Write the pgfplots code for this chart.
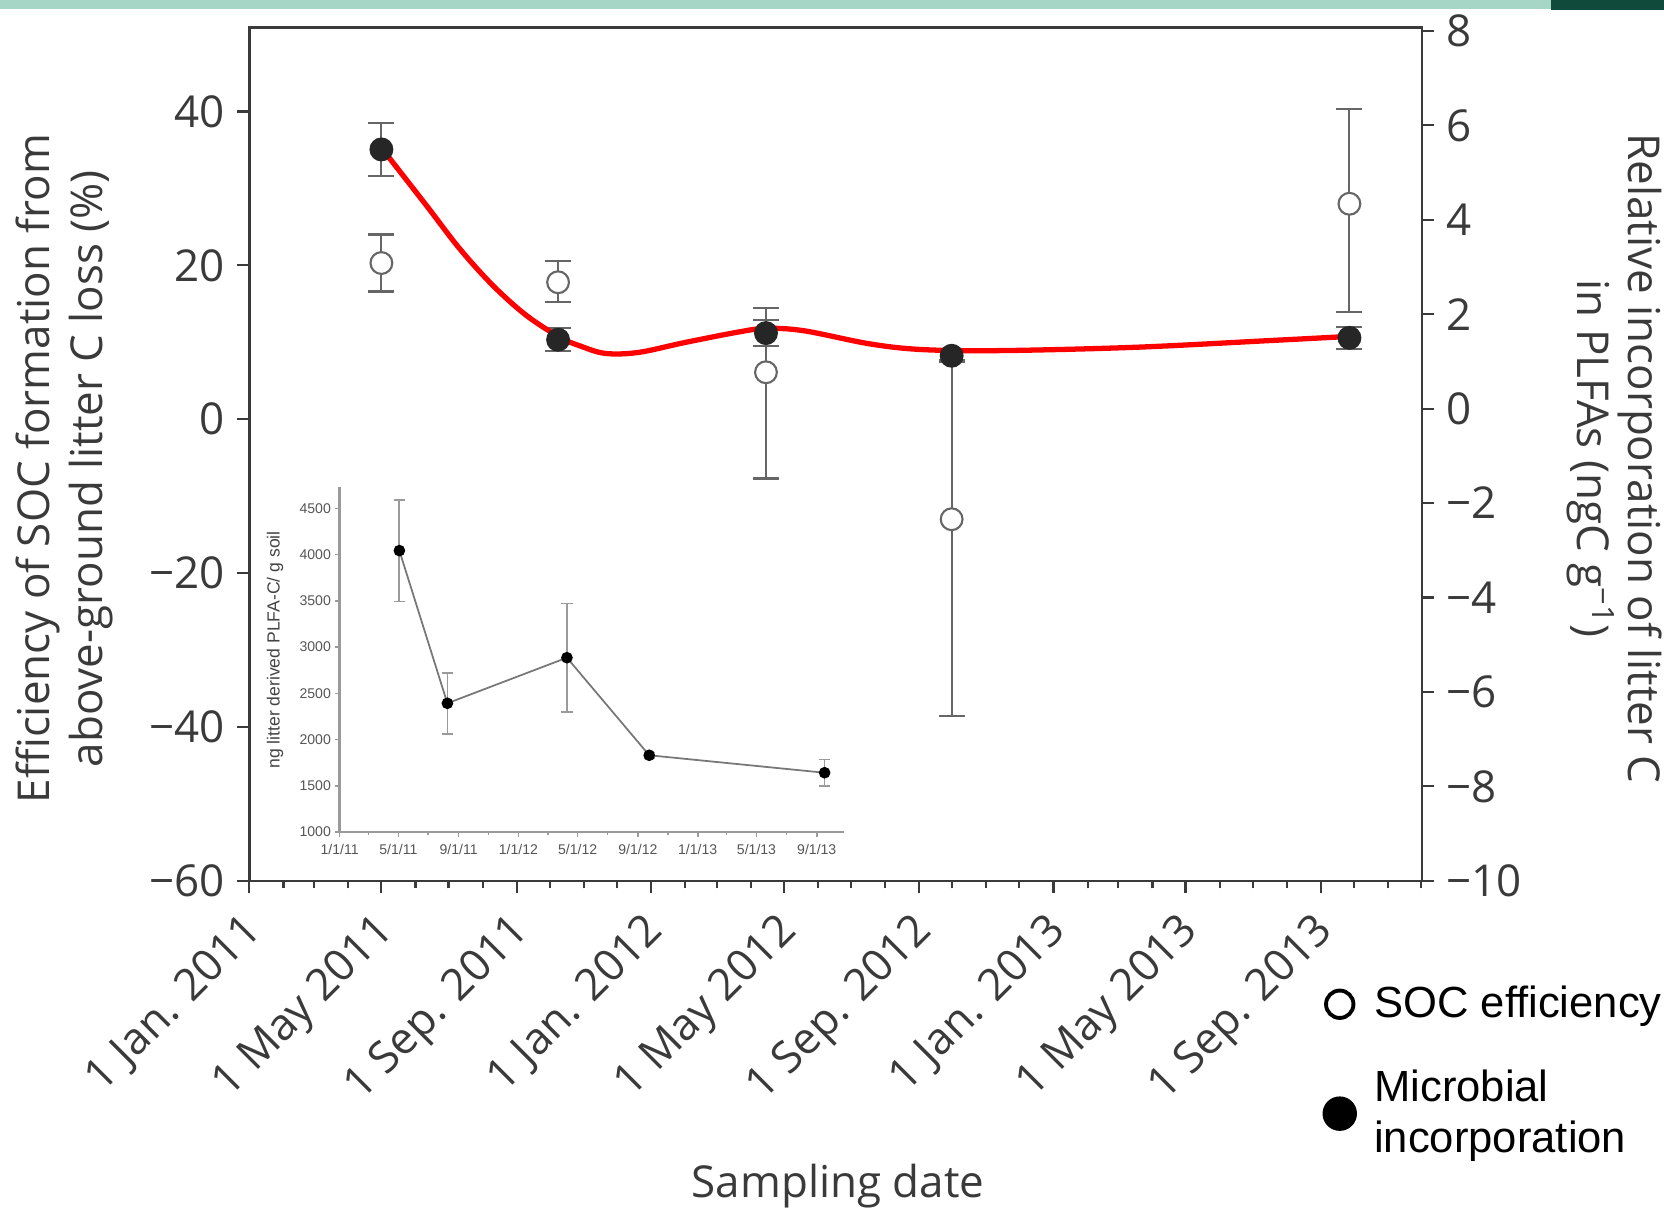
\documentclass[border=0pt]{standalone}
\usepackage{pgfplots}
\pgfplotsset{compat=1.18}
\usepackage{fontspec}
\setmainfont{Open Sans}
\newfontfamily\arialfont{Liberation Sans}
\definecolor{axisgray}{HTML}{3A3A3A}
\definecolor{errgray}{HTML}{666666}
\definecolor{band}{HTML}{A6D6C6}
\definecolor{darkgreen}{HTML}{0F4A3A}
\definecolor{insetgray}{HTML}{9A9A9A}
\definecolor{insettext}{HTML}{555555}
\definecolor{insetline}{HTML}{777777}

\begin{document}
\begin{tikzpicture}[x=1cm,y=1cm]
\useasboundingbox (0,0) rectangle (16.64,12.08);
\fill[band] (0,11.995) rectangle (15.51,12.08);
\fill[darkgreen] (15.51,11.985) rectangle (16.64,12.08);

% ---------------- main axis (left scale) ----------------
\begin{axis}[
  at={(2.494cm,3.272cm)}, anchor=south west,
  scale only axis, width=11.726cm, height=8.532cm,
  xmin=0, xmax=1066, ymin=-60, ymax=50.9,
  axis line style={axisgray, line width=0.65pt},
  tick style={axisgray, line width=0.6pt},
  tick align=outside,
  major tick length=1.2mm, minor tick length=0.75mm,
  xtick pos=bottom, ytick pos=left,
  xtick={0,120,243,365,486,609,731,851,974},
  xticklabels={1 Jan. 2011,1 May 2011,1 Sep. 2011,1 Jan. 2012,1 May 2012,1 Sep. 2012,1 Jan. 2013,1 May 2013,1 Sep. 2013},
  minor xtick={31,59,90,151,181,212,273,304,334,396,425,456,517,547,578,639,670,700,762,790,821,882,912,943,1004,1035,1065},
  ytick={-60,-40,-20,0,20,40},
  yticklabels={−60,−40,−20,0,20,40},
  ticklabel style={font=\fontsize{12.5}{14}\selectfont, text=axisgray},
  xticklabel style={rotate=45, anchor=north east, inner sep=1.5pt, xshift=-3.5pt},
  xlabel={Sampling date},
  xlabel style={at={(axis description cs:0.502,-0.358)}, anchor=center, font=\fontsize{12.5}{14}\selectfont, text=axisgray},
  ylabel={Efficiency of SOC formation from\\above-ground litter C loss (\%)},
  ylabel style={at={(axis description cs:-0.158,0.483)}, anchor=center, align=center, font=\fontsize{12.5}{15}\selectfont, text=axisgray},
]
\addplot[only marks, mark=*, mark size=3.1pt,
  mark options={draw=errgray, fill=white, line width=0.6pt},
  error bars/.cd, y dir=both, y explicit,
  error bar style={errgray, line width=0.6pt},
  error mark options={rotate=90, mark size=3.7pt, errgray, line width=0.6pt}]
  table[x=x, y=y, y error plus=ep, y error minus=em] {
x y ep em
120 20.3 3.7 3.7
280.6 17.8 2.8 2.6
469.6 6.1 8.4 13.8
638.4 -13.0 20.5 25.6
1000 28.0 12.3 14.1
};
\end{axis}

% ---------------- main axis (right scale) ----------------
\begin{axis}[
  at={(2.494cm,3.272cm)}, anchor=south west,
  scale only axis, width=11.726cm, height=8.532cm,
  xmin=0, xmax=1066, ymin=-10, ymax=8.07,
  axis x line=none, axis y line*=right,
  axis line style={-, axisgray, line width=0.65pt},
  tick style={axisgray, line width=0.6pt},
  tick align=outside, major tick length=1.2mm,
  ytick={-10,-8,-6,-4,-2,0,2,4,6,8},
  yticklabels={−10,−8,−6,−4,−2,0,2,4,6,8},
  ticklabel style={font=\fontsize{12.5}{14}\selectfont, text=axisgray},
  ylabel={Relative incorporation of litter C\\in PLFAs (ngC g\textsuperscript{−1})},
  ylabel style={at={(axis description cs:1.164,0.495)}, anchor=center, rotate=180, align=center, font=\fontsize{12.5}{14.5}\selectfont, text=axisgray},
  legend style={at={(axis description cs:0.9143,-0.114)}, anchor=north west, draw=none, fill=none,
    font=\arialfont\fontsize{12.4}{14.5}\selectfont, inner sep=0pt, row sep=3.3mm,
    cells={anchor=west, align=left}},
  legend image code/.code={\path[draw=none, fill=none] (0cm,0cm) -- (0.45cm,0cm); \draw[#1] plot coordinates {(0.175cm,0cm)};},
]
\addplot[forget plot, only marks, mark=*, mark size=3.2pt,
  mark options={draw=black!85, fill=black!85},
  error bars/.cd, y dir=both, y explicit,
  error bar style={errgray, line width=0.6pt},
  error mark options={rotate=90, mark size=3.7pt, errgray, line width=0.6pt}]
  table[x=x, y=y, y error plus=e, y error minus=e] {
x y e
120 5.49 0.56
280.6 1.46 0.24
469.6 1.60 0.27
638.4 1.12 0.09
1000 1.50 0.23
};
\addplot[forget plot, red, line width=1.5pt, smooth, tension=0.55] coordinates {
(121.5,5.48) (161,4.30) (191.4,3.38) (221.7,2.60) (252,1.97) (282.3,1.51) (300.4,1.33)
(323.4,1.17) (353.5,1.19) (395.7,1.40) (443.9,1.62) (469.8,1.70) (504.1,1.65) (564.4,1.37)
(612.6,1.25) (685,1.23) (805.5,1.30) (926,1.44) (1000,1.53)};
\addlegendimage{only marks, mark=*, mark size=3.9pt, mark options={draw=black, fill=white, line width=1.1pt}}
\addlegendentry{SOC efficiency}
\addlegendimage{only marks, mark=*, mark size=4.7pt, mark options={draw=black, fill=black}}
\addlegendentry{Microbial\\incorporation}
\end{axis}

% ---------------- inset ----------------
\begin{axis}[
  at={(3.396cm,3.76cm)}, anchor=south west,
  scale only axis, width=5.041cm, height=3.453cm,
  xmin=0, xmax=1029, ymin=1000, ymax=4734,
  axis x line*=bottom, axis y line*=left,
  axis line style={-, insetgray, line width=0.7pt},
  tick style={insetgray, line width=0.45pt},
  tick align=outside, major tick length=0.45mm, minor tick length=0.3mm,
  xtick={0,120,243,365,486,609,731,851,974},
  xticklabels={1/1/11,5/1/11,9/1/11,1/1/12,5/1/12,9/1/12,1/1/13,5/1/13,9/1/13},
  minor xtick={59,181,304,425,547,670,790,912},
  ytick={1000,1500,2000,2500,3000,3500,4000,4500},
  yticklabels={1000,1500,2000,2500,3000,3500,4000,4500},
  scaled y ticks=false,
  ticklabel style={font=\arialfont\fontsize{4}{5}\selectfont, text=insettext, inner sep=1pt},
  xticklabel style={yshift=-1pt},
  ylabel={ng litter derived PLFA-C/ g soil},
  ylabel style={at={(axis description cs:-0.128,0.527)}, anchor=center, font=\arialfont\fontsize{5}{6}\selectfont, text=insettext!80!black},
]
\addplot[insetline, line width=0.5pt, mark=*, mark size=1.4pt,
  mark options={draw=black, fill=black},
  error bars/.cd, y dir=both, y explicit,
  error bar style={insetgray, line width=0.5pt},
  error mark options={rotate=90, mark size=1.6pt, insetgray, line width=0.5pt}]
  table[x=x, y=y, y error plus=e, y error minus=e] {
x y e
122 4043 550
220 2392 330
464 2885 585
632 1830 30
990 1641 143
};
\end{axis}
\end{tikzpicture}
\end{document}
